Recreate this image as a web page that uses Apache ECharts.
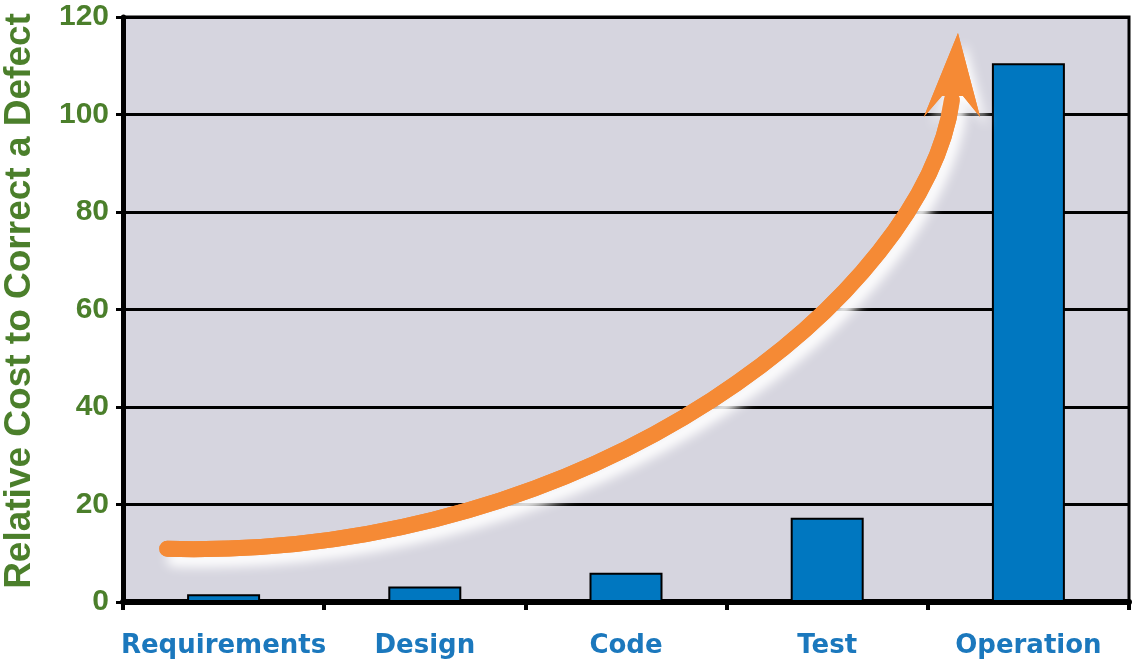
<!DOCTYPE html>
<html>
<head>
<meta charset="utf-8">
<script src="https://cdn.jsdelivr.net/npm/echarts@6/dist/echarts.min.js"></script>
<style>
  html, body { margin: 0; padding: 0; background: #ffffff; }
  #chart { width: 1133px; height: 660px; }
</style>
</head>
<body>
<div id="chart"></div>
<script>
// Life-cycle phases and the relative cost of fixing a defect found in each
const phases = ['Requirements', 'Design', 'Code', 'Test', 'Operation'];
const relativeCost = [1.6, 3.2, 6, 17.3, 110.5];
const yTicks = [0, 20, 40, 60, 80, 100, 120];
const yTitle = 'Relative Cost to Correct a Defect';

// Trend arrow, in data units (x: phase position 0..5, y: relative cost)
const arrowCurve = [[0.22, 10.9], [2.37, 8.6], [3.99, 64.0], [4.12, 103.0]]; // cubic Bezier: start, ctrl1, ctrl2, end
const arrowHead = [[3.98, 99.5], [4.07, 103.8], [4.175, 103.8], [4.26, 99.5], [4.15, 116.7]]; // left barb, notches, right barb, tip

const chart = echarts.init(document.getElementById('chart'));

const green = '#4b7f2b';
const blue = '#1b78bd';
const orange = '#f58a35';

chart.setOption({
  animation: false,
  backgroundColor: '#ffffff',
  grid: {
    left: 123, right: 4, top: 17, bottom: 58,
    show: true,
    backgroundColor: '#d6d5df',
    borderColor: '#000000',
    borderWidth: 3
  },
  xAxis: [
    {
      type: 'category',
      data: phases,
      axisLine: { show: true, lineStyle: { color: '#000', width: 6 } },
      axisTick: { show: true, length: 8, lineStyle: { color: '#000', width: 4 } },
      axisLabel: {
        interval: 0,
        color: blue, fontFamily: 'DejaVu Sans', fontWeight: 'bold', fontSize: 26, margin: 31
      },
      splitLine: { show: false }
    },
    {
      type: 'value', min: 0, max: 5, show: false
    }
  ],
  yAxis: {
    type: 'value',
    min: yTicks[0],
    max: yTicks[yTicks.length - 1],
    interval: yTicks[1] - yTicks[0],
    axisLine: { show: true, lineStyle: { color: '#000', width: 5 } },
    axisTick: { show: true, length: 7, lineStyle: { color: '#000', width: 3 } },
    axisLabel: {
      color: green, fontFamily: 'Liberation Sans', fontWeight: 'bold', fontSize: 30, margin: 14
    },
    splitLine: { show: true, lineStyle: { color: '#000', width: 3 } }
  },
  graphic: [{
    type: 'text',
    x: 20, y: 301,
    rotation: Math.PI / 2,
    style: {
      text: yTitle,
      fill: green,
      font: 'bold 37px "Liberation Sans"',
      align: 'center',
      verticalAlign: 'middle'
    }
  }],
  series: [
    {
      type: 'bar',
      data: relativeCost,
      barWidth: 73,
      itemStyle: { color: '#0077c0', borderColor: '#000', borderWidth: 2 },
      z: 3
    },
    {
      type: 'custom',
      xAxisIndex: 1,
      yAxisIndex: 0,
      data: [arrowCurve[0]],
      z: 4,
      renderItem: function (params, api) {
        const c = arrowCurve.map(p => api.coord(p));
        const h = arrowHead.map(p => api.coord(p));
        const glow = {
          shadowColor: 'rgba(255,255,255,0.97)',
          shadowBlur: 11,
          shadowOffsetX: 7,
          shadowOffsetY: 10
        };
        const shaft = (extra) => ({
          type: 'bezierCurve',
          shape: {
            x1: c[0][0], y1: c[0][1],
            cpx1: c[1][0], cpy1: c[1][1],
            cpx2: c[2][0], cpy2: c[2][1],
            x2: c[3][0], y2: c[3][1]
          },
          style: Object.assign({ fill: null, stroke: orange, lineWidth: 16, lineCap: 'round' }, extra)
        });
        const head = (extra) => ({
          type: 'polygon',
          shape: { points: h },
          style: Object.assign({ fill: orange }, extra)
        });
        // glow pass first, then the clean arrow on top of it
        return {
          type: 'group',
          children: [shaft(glow), head(glow), shaft({}), head({})]
        };
      }
    }
  ]
});
</script>
</body>
</html>
